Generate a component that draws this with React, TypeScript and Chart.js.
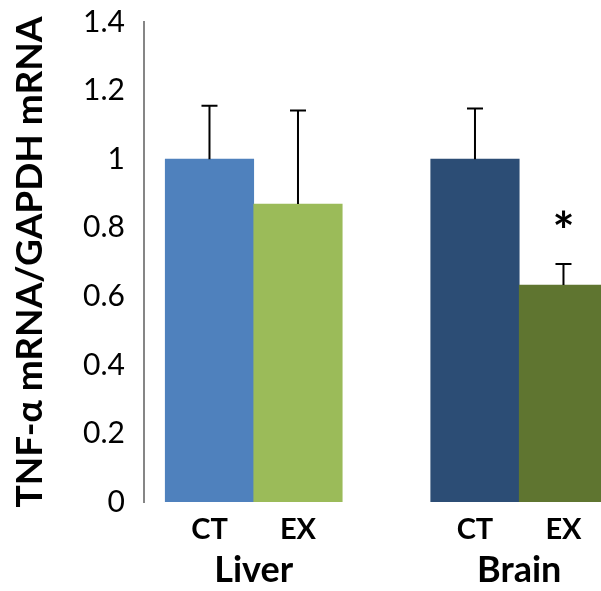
import React, { useEffect, useRef } from "react";
import { Chart, registerables } from "chart.js";

Chart.register(...registerables);

// ---- data ----
const groups = ["Liver", "Brain"];
const conditions = ["CT", "EX", "CT", "EX"];
const values = [1.0, 0.869, 1.0, 0.633];
const errorsUp = [0.156, 0.273, 0.148, 0.061];
const significance = ["", "", "", "*"];
const barColors = ["#4F81BD", "#9BBB59", "#2C4D75", "#5F7530"];
const yTicks = [0, 0.2, 0.4, 0.6, 0.8, 1, 1.2, 1.4];
const yTitle = "TNF-α mRNA/GAPDH mRNA";

// bar slot positions on the x scale (group gap of one slot)
const barPositions = [0, 1, 3, 4];
const groupPositions = [0.5, 3.5];

const FONT = "Lato, 'Open Sans', sans-serif";

const errorBarPlugin = {
  id: "errorBars",
  afterDatasetsDraw(chart: any) {
    const { ctx } = chart;
    const xs = chart.scales.x;
    const ys = chart.scales.y;
    ctx.save();
    values.forEach((v, i) => {
      const x = xs.getPixelForValue(barPositions[i]);
      const y0 = ys.getPixelForValue(v);
      const y1 = ys.getPixelForValue(v + errorsUp[i]);
      ctx.strokeStyle = "#000";
      ctx.lineWidth = 2;
      ctx.beginPath();
      ctx.moveTo(x, y0);
      ctx.lineTo(x, y1);
      ctx.moveTo(x - 8, y1);
      ctx.lineTo(x + 8, y1);
      ctx.stroke();
      if (significance[i]) {
        ctx.fillStyle = "#000";
        ctx.font = `bold 52px ${FONT}`;
        ctx.textAlign = "center";
        ctx.textBaseline = "middle";
        ctx.fillText(significance[i], x, y1 - 31);
      }
    });
    ctx.restore();
  },
};

export default function App() {
  const ref = useRef<HTMLCanvasElement | null>(null);
  useEffect(() => {
    if (!ref.current) return;
    const xMin = -0.74;
    const xMax = 4.424;
    const chart = new Chart(ref.current, {
      type: "bar",
      data: {
        datasets: [
          {
            data: values.map((v, i) => ({ x: barPositions[i], y: v })),
            backgroundColor: barColors,
            borderWidth: 0,
            barPercentage: 1,
            categoryPercentage: 1,
          },
        ],
      },
      options: {
        animation: false,
        responsive: false,
        layout: { padding: { top: 22, left: 0, right: 0, bottom: 0 } },
        plugins: { legend: { display: false }, tooltip: { enabled: false } },
        scales: {
          x: {
            type: "linear",
            position: "bottom",
            offset: false,
            weight: 0,
            min: xMin,
            max: xMax,
            grid: { display: false, drawTicks: false, offset: false },
            border: { display: false },
            afterBuildTicks: (s: any) => {
              s.ticks = barPositions.map((p) => ({ value: p }));
            },
            afterFit: (s: any) => {
              s.height = 43;
              s.paddingLeft = 0;
              s.paddingRight = 0;
            },
            ticks: {
              autoSkip: false,
              maxRotation: 0,
              padding: 10,
              color: "#000",
              font: { family: FONT, size: 29, weight: "bold" },
              callback: (_v: any, i: number) => conditions[i],
            },
          },
          x2: {
            type: "linear",
            position: "bottom",
            offset: false,
            weight: 1,
            min: xMin,
            max: xMax,
            grid: { display: false, drawTicks: false, offset: false },
            border: { display: false },
            afterBuildTicks: (s: any) => {
              s.ticks = groupPositions.map((p) => ({ value: p }));
            },
            afterFit: (s: any) => {
              s.height = 46;
              s.paddingLeft = 0;
              s.paddingRight = 0;
            },
            ticks: {
              autoSkip: false,
              maxRotation: 0,
              padding: 4,
              color: "#000",
              font: { family: FONT, size: 36, weight: "bold" },
              callback: (_v: any, i: number) => groups[i],
            },
          },
          y: {
            type: "linear",
            min: 0,
            max: 1.4,
            afterBuildTicks: (s: any) => {
              s.ticks = yTicks.map((t) => ({ value: t }));
            },
            afterFit: (s: any) => {
              s.width = 144;
              s.paddingTop = 0;
              s.paddingBottom = 0;
            },
            grid: { display: false, drawTicks: false },
            border: { display: true, color: "#868686", width: 2 },
            ticks: {
              padding: 19,
              color: "#000",
              font: { family: FONT, size: 30 },
              callback: (_v: any, i: number) => String(yTicks[i]),
            },
            title: {
              display: true,
              text: yTitle,
              color: "#000",
              font: { family: FONT, size: 37, weight: "bold" },
              padding: { top: 8, bottom: 0 },
            },
          },
        },
      },
      plugins: [errorBarPlugin],
    });
    return () => chart.destroy();
  }, []);
  return (
    <div style={{ position: "absolute", left: 0, top: 0, width: 601, height: 591, background: "#fff" }}>
      <canvas ref={ref} width={601} height={591} style={{ width: 601, height: 591 }} />
    </div>
  );
}
